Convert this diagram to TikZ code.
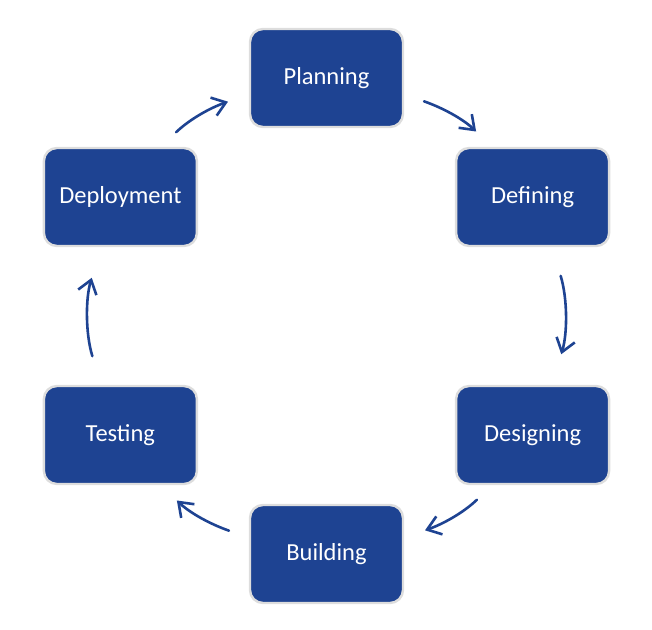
\documentclass[tikz,border=0pt]{standalone}
\usepackage{fontspec}
\setmainfont{Carlito}
\usetikzlibrary{arrows.meta}
\definecolor{sdblue}{HTML}{1E4392}
\definecolor{sdedge}{HTML}{DDDDDD}
\tikzset{
  sd phase/.style={draw=sdedge, line width=2.4pt, rounded corners=13pt, fill=sdblue,
    minimum width=153pt, minimum height=98pt, align=center, text=white,
    font=\fontsize{24.5}{29}\selectfont},
  sd arrow/.style={-{Straight Barb[length=13pt,width=19pt]}, line width=2.6pt,
    draw=sdblue, line cap=round, line join=round},
  sd short/.style={shorten <=21pt, shorten >=22pt},
  sd long/.style={shorten <=30pt, shorten >=32pt}
}
\begin{document}
\begin{tikzpicture}[x=1pt, y=1pt]
  \useasboundingbox (-326.5,-313) rectangle (325.5,316);
  % phases round the cycle
  \foreach \ang/\name/\lab in {90/plan/Planning, 30/def/Defining, -30/des/Designing,
      -90/build/Building, -150/test/Testing, 150/dep/Deployment} {
    \node[sd phase] (\name) at (\ang:238) {\lab};
  }
  % arcs between phases
  \draw[sd arrow, sd short] (plan.-12) to[out=-19, in=136] (def.129);
  \draw[sd arrow, sd long] (def.-69) to[out=-73, in=73] (des.69);
  \draw[sd arrow, sd short] (des.-129) to[out=224, in=19] (build.12);
  \draw[sd arrow, sd short] (build.168) to[out=161, in=-44] (test.-51);
  \draw[sd arrow, sd long] (test.111) to[out=107, in=-107] (dep.-111);
  \draw[sd arrow, sd short] (dep.51) to[out=44, in=199] (plan.192);
\end{tikzpicture}
\end{document}
